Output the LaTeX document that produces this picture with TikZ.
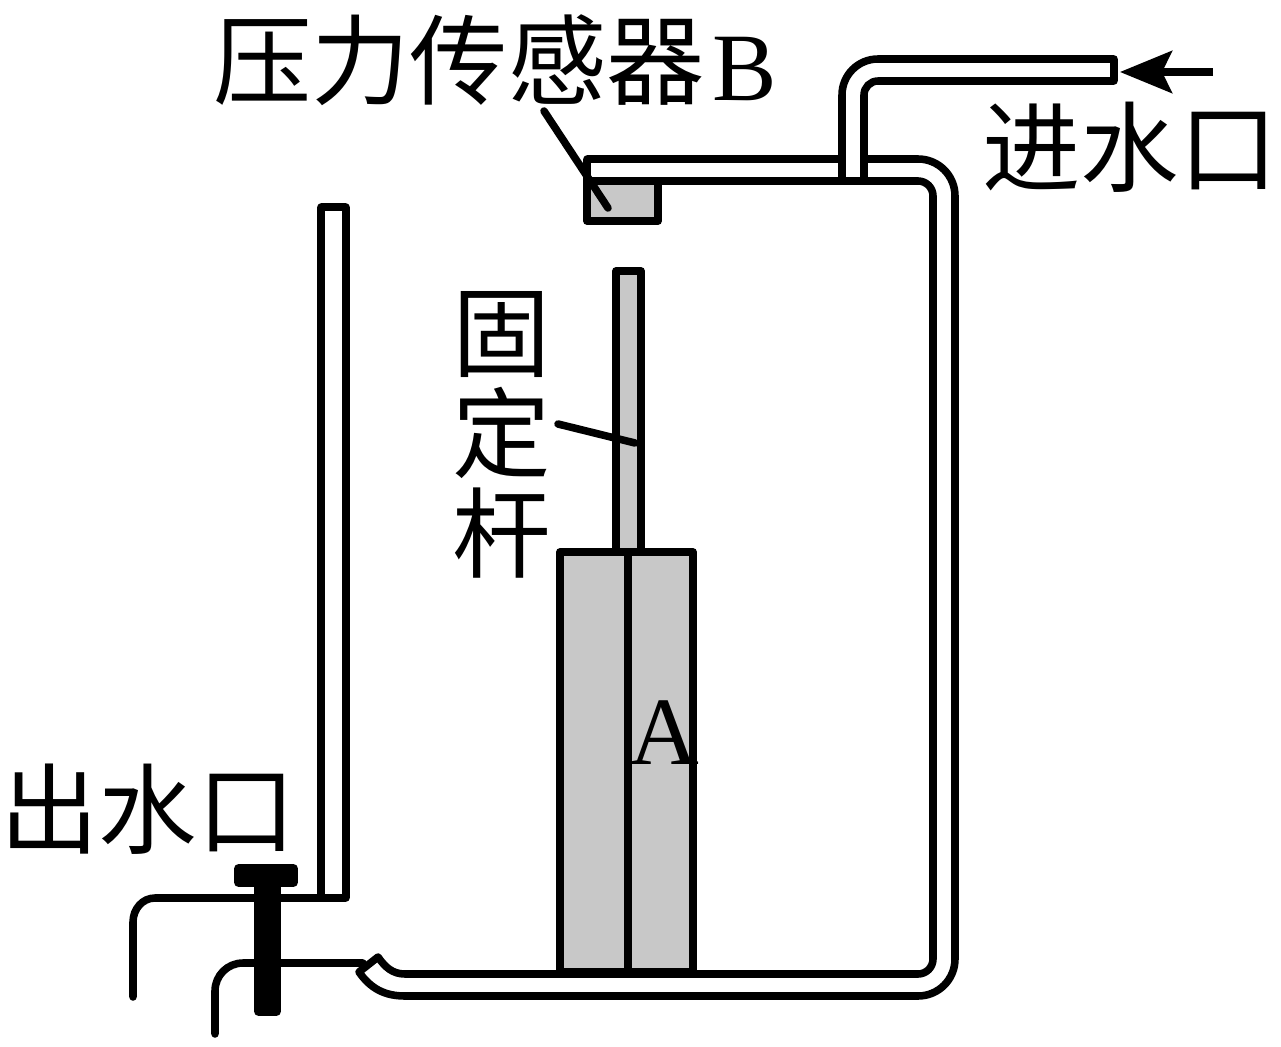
\documentclass[tikz,border=0pt]{standalone}
\usepackage{fontspec}
\usepackage{tikz}
\usetikzlibrary{arrows.meta}
\setmainfont{Liberation Serif}
\newfontfamily\cjk{Noto Sans CJK SC}
\definecolor{fillgray}{RGB}{200,200,200}
\tikzset{
	pipe/.style={line width=4.3pt,line join=round,line cap=round},
	solidpart/.style={fill=black,draw=black,line width=1pt,rounded corners=2pt},
	cjklabel/.style={font=\cjk\fontsize{56}{57}\selectfont,inner sep=0pt,align=center},
	latinlabel/.style={font=\fontsize{55}{55}\selectfont,inner sep=0pt}
}
\begin{document}
\begin{tikzpicture}[x=0.02cm,y=-0.02cm]
	\useasboundingbox (0,0) rectangle (1281,1047);
	\draw[pipe] (321,898) -- (321,207) -- (346,207) -- (346,898) -- (155,898) to[out=180,in=90] (133,922) -- (133,997);
	\draw[pipe] (363,963) -- (243,963) to[out=180,in=90] (215,991) -- (215,1034);
	\draw[pipe] (842,159) -- (587,159) -- (587,181) -- (918,181) to[out=0,in=90] (933,196) -- (933,959) to[out=-90,in=0] (918,974) -- (405,974) to[out=180,in=-55] (378,957) -- (359,972) to[out=-55,in=180] (405,996) -- (918,996) to[out=0,in=-90] (955,959) -- (955,196) to[out=90,in=0] (918,159) -- (864,159);
	\draw[pipe] (842,181) -- (842,95) to[out=90,in=180] (878,59) -- (1114,59) -- (1114,81) -- (878,81) to[out=180,in=90] (864,95) -- (864,181);
	\draw[pipe,fill=fillgray] (587,181) rectangle (658,221);
	\draw[pipe,fill=fillgray] (616,552) -- (616,271) -- (641,271) -- (641,552);
	\draw[pipe,fill=fillgray] (560,552) rectangle (693,972);
	\draw[pipe] (628,552) -- (628,972);
	\fill[solidpart] (255,880) rectangle (280,1015);
	\fill[solidpart] (235,865) rectangle (297,886);
	\node[cjklabel] (sensor) at (459,60) {压力传感器};
	\node[latinlabel] (sensorb) at (745,69) {B};
	\node[cjklabel] (inlet) at (1130,147) {进水口};
	\node[cjklabel] (outlet) at (148,809) {出水口};
	\node[cjklabel] (rodlabel) at (502,435) {固\\定\\杆};
	\node[latinlabel] (blocka) at (664,733) {A};
	\coordinate (sensorend) at (608,208);
	\coordinate (rodend) at (635,443);
	\coordinate (arrowtail) at (1213,72);
	\coordinate (arrowtip) at (1120,72);
	\draw[pipe] (544,111) -- (sensorend);
	\draw[pipe] (558,424) -- (rodend);
	\draw[line width=4.3pt,-{Stealth[length=1.04cm,width=0.84cm,inset=0.2cm]}] (arrowtail) -- (arrowtip);
\end{tikzpicture}
\end{document}
